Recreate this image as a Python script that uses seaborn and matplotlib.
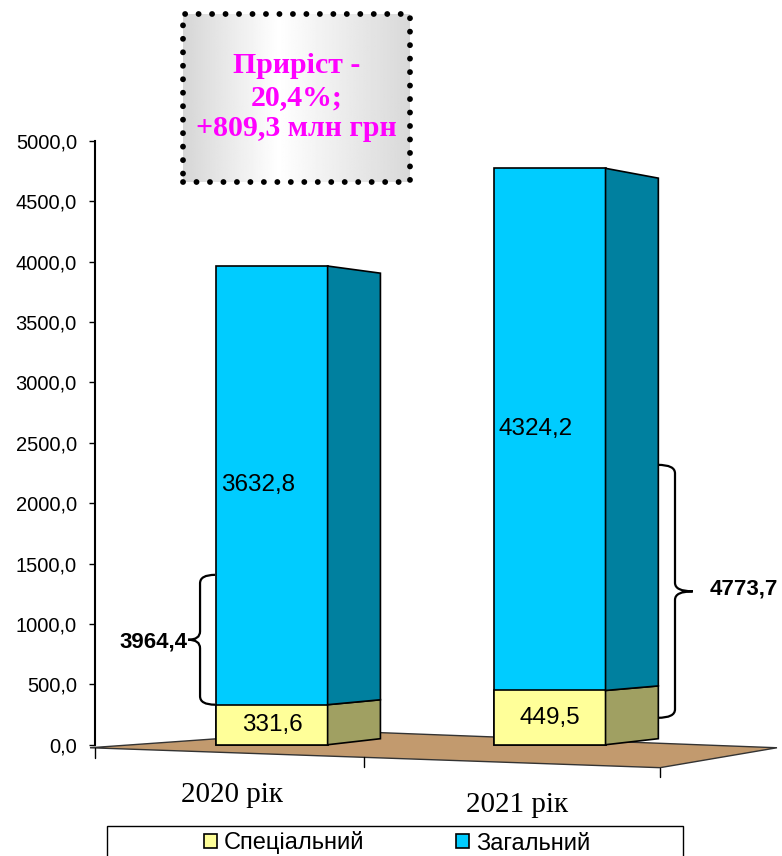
import numpy as np
import pandas as pd
import matplotlib
matplotlib.use('Agg')
import matplotlib.pyplot as plt
import seaborn as sns
from matplotlib.path import Path
from matplotlib.patches import PathPatch, Polygon, Rectangle
from matplotlib.ticker import FuncFormatter

# data
years = ['2020 рік', '2021 рік']
special = [331.6, 449.5]
general = [3632.8, 4324.2]
totals = [3964.4, 4773.7]
growth_text = 'Приріст -\n20,4%;\n+809,3 млн грн'

cyan, cyan_side = '#00CCFF', '#00809F'
yellow, yellow_side = '#FFFF99', '#A0A062'
floor_col = '#C29A6E'

df = pd.DataFrame({'year': years, 'special': special, 'general': general, 'total': totals})

sns.set_theme(style='white')
plt.rcParams['font.family'] = ['Liberation Sans', 'DejaVu Sans']
plt.rcParams['text.color'] = 'black'
plt.rcParams['ytick.color'] = 'black'

fig = plt.figure(figsize=(7.82, 8.56), dpi=100)
ax = fig.add_axes([95/782, 1-787/856, 687/782, (787-141)/856])

# floor of the 3d chart
floor = Polygon([(-0.655, -25), (0.209, 116), (1.817, -25), (1.396, -190)],
                closed=True, facecolor=floor_col, edgecolor='#333333', lw=1, zorder=0.5, clip_on=False)
ax.add_patch(floor)

# front faces: total first, special over it
sns.barplot(data=df, x='year', y='total', color=cyan, saturation=1, width=0.4,
            edgecolor='black', linewidth=1.2, label='Загальний', ax=ax, zorder=2)
sns.barplot(data=df, x='year', y='special', color=yellow, saturation=1, width=0.4,
            edgecolor='black', linewidth=1.2, label='Спеціальний', ax=ax, zorder=2)

# side faces (fake perspective)
depth, shrink, lift = 0.19, 0.9725, 50
def back(v):
    return lift + v * shrink
for i in range(len(years)):
    x0 = i + 0.2
    x1 = x0 + depth
    for lo, hi, col in [(0, special[i], yellow_side), (special[i], totals[i], cyan_side)]:
        ax.add_patch(Polygon([(x0, lo), (x0, hi), (x1, back(hi)), (x1, back(lo))],
                             closed=True, facecolor=col, edgecolor='black', lw=1.2, zorder=2))

# value labels
for i in range(len(years)):
    ax.text(i - 0.05, special[i] + general[i] / 2, f'{general[i]:.1f}'.replace('.', ','),
            ha='center', va='center', fontsize=17.5, zorder=3)
    ax.text(i, special[i] / 2, f'{special[i]:.1f}'.replace('.', ','),
            ha='center', va='center', fontsize=17.5, zorder=3)

# braces with totals
def brace(xa, xv, xt, y0, y1, r=70):
    ym = (y0 + y1) / 2
    verts = [(xa, y1), (xv, y1), (xv, y1 - r), (xv, ym + r), (xv, ym), (xt, ym),
             (xv, ym), (xv, ym - r), (xv, y0 + r), (xv, y0), (xa, y0)]
    codes = [Path.MOVETO, Path.CURVE3, Path.CURVE3, Path.LINETO, Path.CURVE3, Path.CURVE3,
             Path.CURVE3, Path.CURVE3, Path.LINETO, Path.CURVE3, Path.CURVE3]
    ax.add_patch(PathPatch(Path(verts, codes), fill=False, lw=1.6, edgecolor='black', clip_on=False))
    return ym

ym = brace(-0.205, -0.259, -0.302, special[0], 1407)
ax.text(-0.305, ym - 20, f'{totals[0]:.1f}'.replace('.', ','), ha='right', va='center',
        fontsize=16, fontweight='bold')
ym = brace(1.388, 1.45, 1.514, 223, 2318)
ax.text(1.576, ym + 20, f'{totals[1]:.1f}'.replace('.', ','), ha='left', va='center',
        fontsize=16, fontweight='bold', clip_on=False)

# category labels (perspective offsets)
ax.text(-0.144, -414, years[0], ha='center', va='center', fontsize=21,
        family='Liberation Serif', clip_on=False)
ax.text(0.881, -497, years[1], ha='center', va='center', fontsize=21,
        family='Liberation Serif', clip_on=False)

# small ticks along front edge of the floor
for tx in [-0.637, 0.33, 1.396]:
    ty = np.interp(tx, [-0.655, 1.396], [-25, -190])
    ax.plot([tx, tx], [ty, ty - 80], color='black', lw=1, clip_on=False)

ax.set_xlim(-0.637, 1.835)
ax.set_ylim(-350, 5000)
ax.set_yticks(np.arange(0, 5001, 500))
ax.yaxis.set_major_formatter(FuncFormatter(lambda v, p: f'{v:.1f}'.replace('.', ',')))
ax.tick_params(axis='y', left=True, length=4, width=1, pad=9, labelsize=14.5, colors='black')
ax.set_xticks([])
ax.set_xlabel('')
ax.set_ylabel('')
for s in ['top', 'right', 'bottom']:
    ax.spines[s].set_visible(False)
ax.spines['left'].set_bounds(0, 5000)
ax.spines['left'].set_color('black')
ax.spines['left'].set_linewidth(1.5)
ax.patch.set_alpha(0)
if ax.get_legend():
    ax.get_legend().remove()

# legend
h, l = ax.get_legend_handles_labels()
order = [l.index('Спеціальний'), l.index('Загальний')]
fig.add_artist(Rectangle((107/782, 1-890/856), 576/782, 64/856, transform=fig.transFigure,
                         facecolor='white', edgecolor='black', lw=1))
fig.legend([h[k] for k in order], [l[k] for k in order], loc='center',
           bbox_to_anchor=(397/782, 1-843/856), ncol=2, frameon=False,
           handlelength=0.55, handleheight=0.55, handletextpad=0.3,
           columnspacing=3.9, fontsize=17)

# growth text box with gradient and dotted border
bax = fig.add_axes([183/782, 1-182/856, 227/782, 168/856])
grad = np.interp(np.linspace(0, 1, 200), [0, 0.42, 1], [0.84, 1.0, 0.85])
bax.imshow(grad[np.newaxis, :], aspect='auto', cmap='gray', vmin=0, vmax=1, extent=(0, 1, 0, 1))
bax.set_xlim(0, 1)
bax.set_ylim(0, 1)
bax.axis('off')
bax.add_patch(Rectangle((0, 0), 1, 1, transform=bax.transAxes, fill=False, lw=4.2,
                        ls=(0, (0.01, 2.3)), capstyle='round', edgecolor='black',
                        clip_on=False, zorder=5))
bax.text(0.5, 0.505, growth_text, ha='center', va='center', color='#FF00FF', fontsize=21.5,
         fontweight='bold', family='Liberation Serif', linespacing=1.2)

fig.savefig('out.png', dpi=100)
